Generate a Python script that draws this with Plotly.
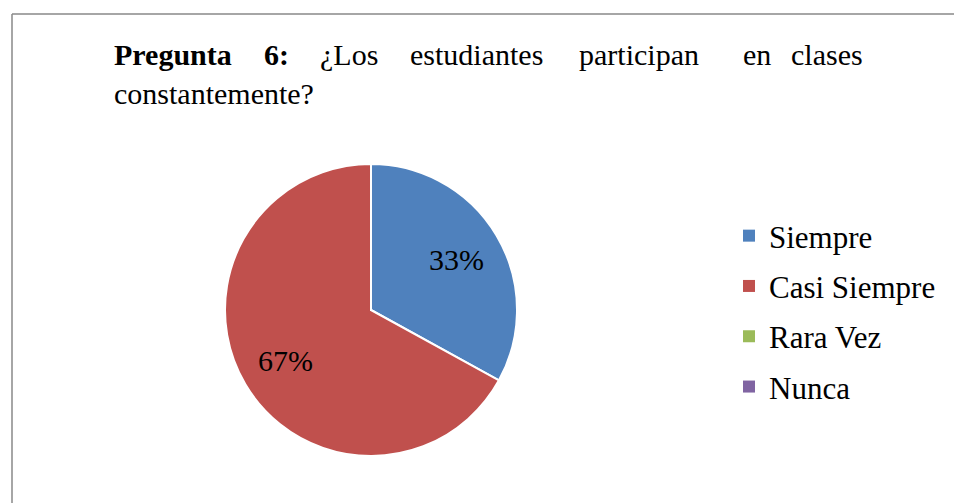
import math
import plotly.graph_objects as go

labels = ["Siempre", "Casi Siempre", "Rara Vez", "Nunca"]
values = [33, 67, 0, 0]
colors = ["#4F81BD", "#C0504D", "#9BBB59", "#8064A2"]

title_line1 = ["<b>Pregunta</b>", "<b>6:</b>", "¿Los", "estudiantes", "participan", "en", "clases"]
title_line1_x = [112, 262, 318, 408, 577, 741, 865]
title_line2 = "constantemente?"

W, H = 954, 503
FONT = "Liberation Serif, Times New Roman, serif"

# pie placement in pixels
cx, cy, R = 371, 310, 146

total = sum(values)

fig = go.Figure()

fig.add_trace(go.Pie(
    labels=labels, values=values, textinfo="none",
    marker=dict(colors=colors, line=dict(color="white", width=2)),
    sort=False, direction="clockwise", rotation=0,
    domain=dict(x=[(cx - R) / W, (cx + R) / W], y=[1 - (cy + R) / H, 1 - (cy - R) / H]),
    showlegend=False, hoverinfo="label+percent",
))

# percentage labels along each slice's bisector
cum = 0
for v in values:
    if v:
        mid = 2 * math.pi * (cum + v / 2) / total
        px = cx + 0.68 * R * math.sin(mid)
        py = cy - 0.68 * R * math.cos(mid)
        fig.add_annotation(
            text=f"{round(100 * v / total)}%", x=px / W, y=1 - py / H,
            xref="paper", yref="paper", xanchor="center", yanchor="middle",
            showarrow=False, font=dict(family=FONT, size=30, color="black"),
        )
    cum += v

# legend entries (incl. zero-valued categories)
for lab, c in zip(labels, colors):
    fig.add_trace(go.Scatter(
        x=[None], y=[None], mode="markers", name=lab, legendgroup=lab,
        marker=dict(symbol="square", size=12, color=c),
    ))

for i, (w, px) in enumerate(zip(title_line1, title_line1_x)):
    fig.add_annotation(
        text=w, x=px / W, y=1 - 55 / H, xref="paper", yref="paper",
        xanchor="right" if i == len(title_line1) - 1 else "left", yanchor="middle",
        showarrow=False, font=dict(family=FONT, size=30, color="black"),
    )
fig.add_annotation(
    text=title_line2, x=112 / W, y=1 - 93 / H, xref="paper", yref="paper",
    xanchor="left", yanchor="middle",
    showarrow=False, font=dict(family=FONT, size=30, color="black"),
)

# frame
fig.add_shape(type="line", xref="paper", yref="paper", x0=12 / W, x1=1, y0=1 - 14 / H, y1=1 - 14 / H,
              line=dict(color="#898989", width=1.5))
fig.add_shape(type="line", xref="paper", yref="paper", x0=12 / W, x1=12 / W, y0=0, y1=1 - 14 / H,
              line=dict(color="#898989", width=1.5))

fig.update_layout(
    width=W, height=H,
    margin=dict(l=0, r=0, t=0, b=0),
    paper_bgcolor="white", plot_bgcolor="white",
    xaxis=dict(visible=False), yaxis=dict(visible=False),
    legend=dict(
        x=729 / W, y=1 - 209 / H, xanchor="left", yanchor="top",
        font=dict(family=FONT, size=31, color="black"),
        tracegroupgap=7, itemwidth=30, bgcolor="rgba(0,0,0,0)",
    ),
)

fig.write_html("out.html", config={"displayModeBar": False},
               post_script="document.body.style.margin='0';")
